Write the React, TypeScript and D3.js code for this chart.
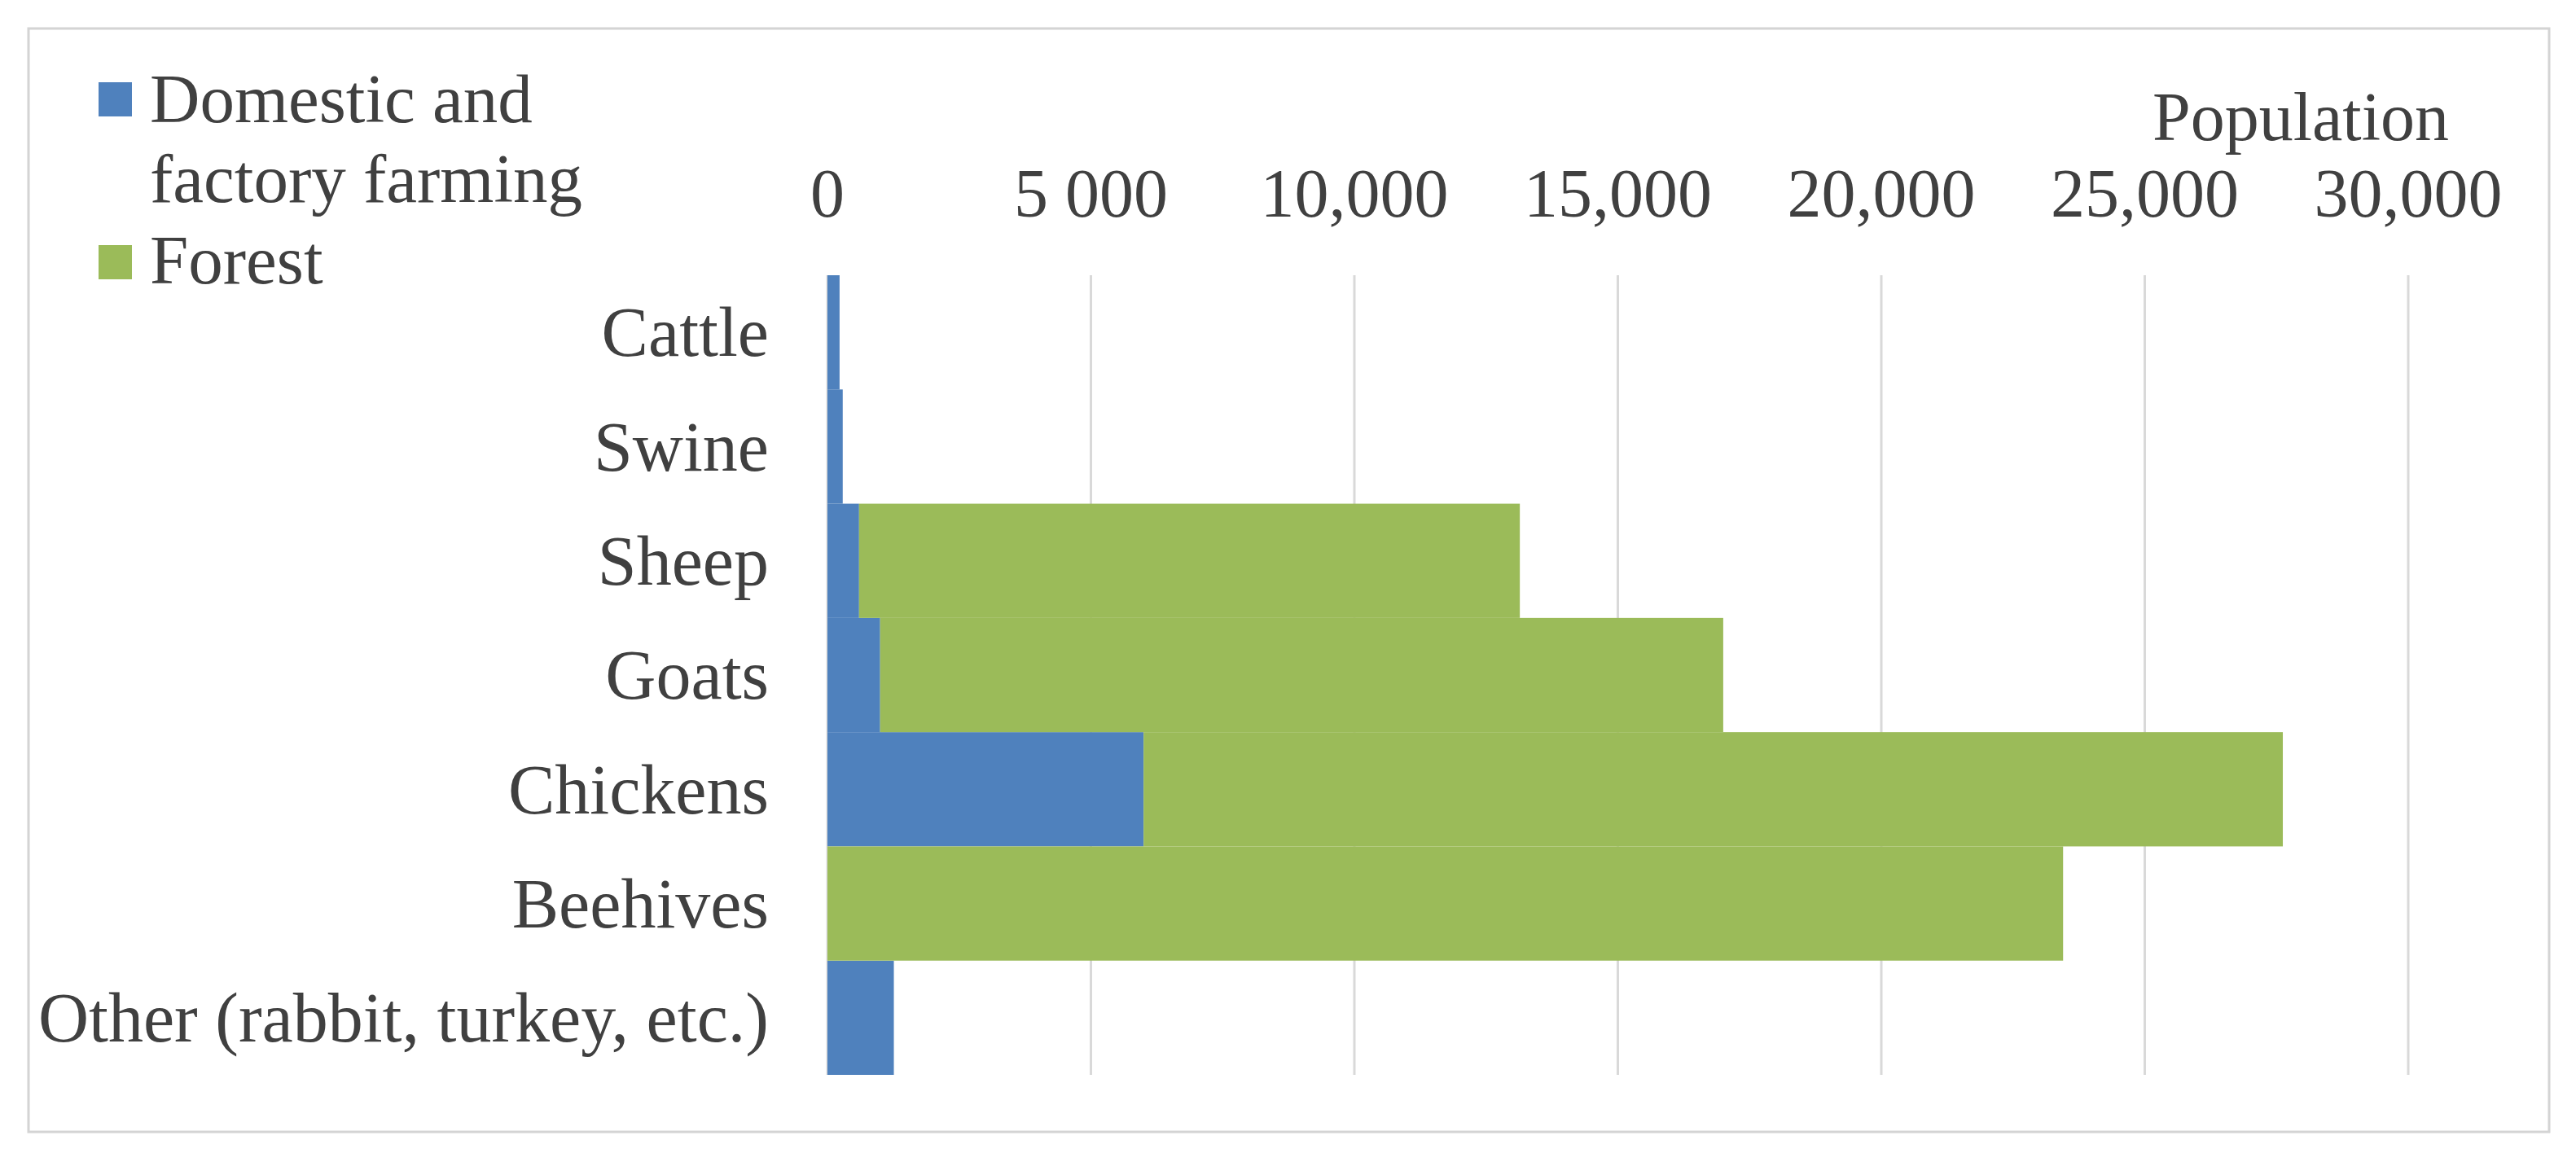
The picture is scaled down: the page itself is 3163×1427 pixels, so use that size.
import React from "react";
import * as d3 from "d3";

const categories = ["Cattle", "Swine", "Sheep", "Goats", "Chickens", "Beehives", "Other (rabbit, turkey, etc.)"];
const domesticValues = [230, 290, 600, 1000, 6000, 0, 1260];
const forestValues = [0, 0, 12540, 16000, 21620, 23450, 0];
const seriesNames = ["Domestic and factory farming", "Forest"];
const tickValues = [0, 5000, 10000, 15000, 20000, 25000, 30000];
const tickLabels = ["0", "5 000", "10,000", "15,000", "20,000", "25,000", "30,000"];
const axisTitle = "Population";

const W = 3163;
const H = 1427;
const COLORS = ["#4f81bd", "#9bbb59"];
const TEXT = "#404040";
const FONT = "'Liberation Serif', 'Times New Roman', serif";
const FS = 84;
const FS_CAT = 86;
const FS_LEG = 85;

export default function App() {
  const x = d3.scaleLinear().domain([0, 30000]).range([1016, 2957]);
  const y = d3.scaleBand<string>().domain(categories).range([338, 1320]).padding(0);

  const rows = categories.map((c, i) => ({ cat: c, domestic: domesticValues[i], forest: forestValues[i] }));
  const stacked = d3.stack<any>().keys(["domestic", "forest"])(rows);

  return (
    <svg
      width={W}
      height={H}
      viewBox={`0 0 ${W} ${H}`}
      style={{ position: "absolute", left: 0, top: 0, display: "block", background: "#fff" }}
    >
      <rect x={0} y={0} width={W} height={H} fill="#fff" />
      {/* frame */}
      <rect x={35} y={35} width={3095} height={1355} fill="#fff" stroke="#d4d4d4" strokeWidth={3} />

      {/* gridlines */}
      {tickValues.map((t) => (
        <line key={"g" + t} x1={x(t)} x2={x(t)} y1={338} y2={1320} stroke="#d9d9d9" strokeWidth={3} />
      ))}

      {/* bars */}
      {stacked.map((s, si) => (
        <g key={s.key} fill={COLORS[si]}>
          {s.map((d, i) => {
            const w = x(d[1]) - x(d[0]);
            if (w <= 0) return null;
            return <rect key={i} x={x(d[0])} y={y(categories[i])!} width={w} height={y.bandwidth()} />;
          })}
        </g>
      ))}

      {/* tick labels */}
      {tickValues.map((t, i) => (
        <text key={"t" + t} x={x(t)} y={266} textAnchor="middle" fontFamily={FONT} fontSize={FS} fill={TEXT}>
          {tickLabels[i]}
        </text>
      ))}

      {/* axis title */}
      <text x={3007} y={172} textAnchor="end" fontFamily={FONT} fontSize={FS} fill={TEXT}>
        {axisTitle}
      </text>

      {/* category labels */}
      {categories.map((c) => (
        <text
          key={c}
          x={944}
          y={y(c)! + y.bandwidth() / 2}
          dy="0.34em"
          textAnchor="end"
          fontFamily={FONT}
          fontSize={FS_CAT}
          fill={TEXT}
        >
          {c}
        </text>
      ))}

      {/* legend */}
      <rect x={121} y={101} width={41} height={42} fill={COLORS[0]} />
      <text x={184} y={150} fontFamily={FONT} fontSize={FS_LEG} fill={TEXT}>Domestic and</text>
      <text x={184} y={248} fontFamily={FONT} fontSize={FS_LEG} fill={TEXT}>factory farming</text>
      <rect x={121} y={301} width={41} height={42} fill={COLORS[1]} />
      <text x={184} y={348} fontFamily={FONT} fontSize={FS_LEG} fill={TEXT}>{seriesNames[1]}</text>
    </svg>
  );
}
